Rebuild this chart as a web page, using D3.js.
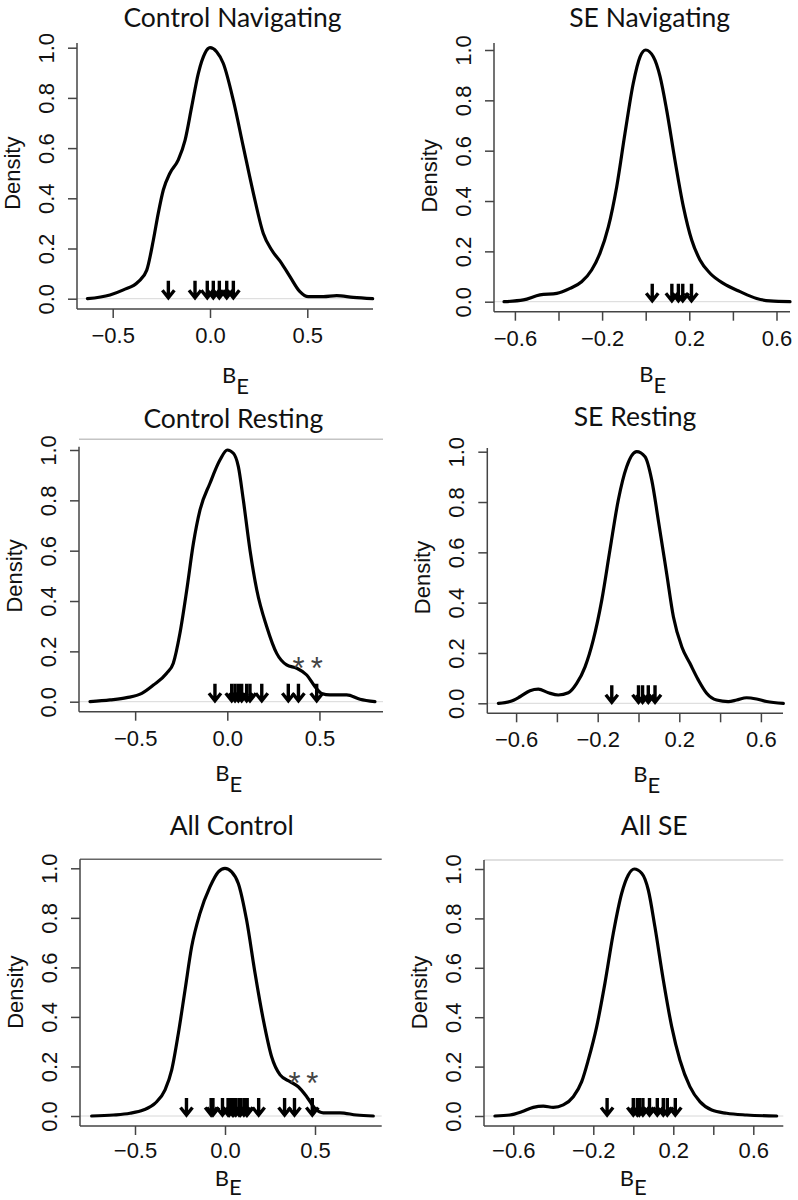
<!DOCTYPE html>
<html><head><meta charset="utf-8">
<script src="https://cdn.jsdelivr.net/npm/d3@7"></script>
<style>body{margin:0;background:#fff}svg{display:block}</style>
</head><body>
<script>
// ---------- data ----------
const titles = ["Control Navigating", "SE Navigating", "Control Resting", "SE Resting", "All Control", "All SE"];

const curveCN = [[-0.63,0],[-0.514,0.015],[-0.445,0.035],[-0.368,0.068],[-0.325,0.114],[-0.291,0.234],[-0.266,0.34],[-0.24,0.433],[-0.206,0.50],[-0.163,0.553],[-0.128,0.632],[-0.094,0.765],[-0.06,0.898],[-0.026,0.978],[0,1.0],[0.034,0.984],[0.068,0.938],[0.12,0.79],[0.171,0.606],[0.223,0.42],[0.274,0.26],[0.317,0.194],[0.368,0.141],[0.411,0.088],[0.462,0.028],[0.505,0.008],[0.583,0.008],[0.651,0.012],[0.736,0.005],[0.836,0]];
const curveSN = [[-0.65,0],[-0.561,0.007],[-0.485,0.027],[-0.408,0.033],[-0.347,0.053],[-0.294,0.079],[-0.248,0.126],[-0.21,0.192],[-0.171,0.298],[-0.133,0.457],[-0.095,0.669],[-0.057,0.868],[-0.026,0.973],[0,1.0],[0.035,0.973],[0.066,0.894],[0.096,0.762],[0.134,0.563],[0.173,0.377],[0.211,0.245],[0.249,0.166],[0.295,0.113],[0.356,0.073],[0.433,0.04],[0.509,0.013],[0.57,0.003],[0.662,0]];
const curveCR = [[-0.745,0],[-0.636,0.007],[-0.546,0.016],[-0.464,0.033],[-0.401,0.066],[-0.329,0.113],[-0.293,0.153],[-0.257,0.272],[-0.22,0.444],[-0.184,0.629],[-0.148,0.762],[-0.094,0.868],[-0.04,0.96],[0,1.0],[0.033,0.987],[0.06,0.934],[0.087,0.801],[0.123,0.603],[0.16,0.444],[0.214,0.298],[0.268,0.192],[0.322,0.146],[0.377,0.133],[0.431,0.106],[0.476,0.06],[0.512,0.033],[0.557,0.027],[0.648,0.027],[0.72,0.01],[0.801,0]];
const curveSR = [[-0.687,0],[-0.63,0.007],[-0.581,0.026],[-0.532,0.05],[-0.491,0.056],[-0.442,0.042],[-0.393,0.033],[-0.344,0.042],[-0.303,0.079],[-0.262,0.145],[-0.222,0.251],[-0.18,0.41],[-0.14,0.609],[-0.099,0.808],[-0.058,0.94],[-0.009,1.0],[0.032,0.98],[0.065,0.887],[0.097,0.728],[0.138,0.516],[0.171,0.344],[0.212,0.225],[0.252,0.159],[0.293,0.093],[0.334,0.04],[0.383,0.013],[0.44,0.007],[0.481,0.013],[0.53,0.022],[0.579,0.017],[0.628,0.007],[0.71,0]];
const curveAC = [[-0.741,0],[-0.62,0.004],[-0.528,0.011],[-0.454,0.024],[-0.389,0.051],[-0.333,0.105],[-0.296,0.186],[-0.259,0.334],[-0.222,0.509],[-0.185,0.684],[-0.139,0.818],[-0.083,0.926],[-0.037,0.986],[0,1.0],[0.037,0.986],[0.074,0.939],[0.12,0.791],[0.167,0.576],[0.213,0.388],[0.259,0.239],[0.306,0.166],[0.361,0.139],[0.407,0.118],[0.454,0.078],[0.5,0.031],[0.546,0.013],[0.639,0.013],[0.731,0.004],[0.824,0]];
const curveAS = [[-0.692,0],[-0.617,0.004],[-0.558,0.017],[-0.5,0.035],[-0.45,0.04],[-0.4,0.035],[-0.35,0.045],[-0.3,0.078],[-0.258,0.139],[-0.225,0.227],[-0.183,0.362],[-0.142,0.537],[-0.1,0.74],[-0.058,0.902],[-0.025,0.976],[0.005,1.0],[0.042,0.983],[0.075,0.915],[0.108,0.766],[0.15,0.551],[0.192,0.362],[0.233,0.227],[0.283,0.119],[0.333,0.058],[0.392,0.024],[0.467,0.011],[0.567,0.004],[0.717,0]];

const arrowsCN = [-0.214, -0.077, -0.014, 0.017, 0.048, 0.086, 0.12];
const arrowsSN = [0.03, 0.12, 0.15, 0.17, 0.21];
const arrowsCR = [-0.067, 0.024, 0.042, 0.06, 0.078, 0.105, 0.123, 0.187, 0.331, 0.386, 0.485];
const arrowsSR = [-0.131, 0, 0.02, 0.048, 0.081];
const arrowsAC = arrowsCN.concat(arrowsCR);
const arrowsAS = arrowsSN.concat(arrowsSR);

const starsCR = [0.386, 0.485];
const starsAC = [0.386, 0.485];

const ticksXControl = [-0.5, 0, 0.5];
const ticksXSE = [-0.6, -0.4, -0.2, 0, 0.2, 0.4, 0.6];
const labelsXSE = [-0.6, -0.2, 0.2, 0.6];
const ticksY = [0, 0.2, 0.4, 0.6, 0.8, 1.0];
const yLabel = "Density";

const curves = [curveCN, curveSN, curveCR, curveSR, curveAC, curveAS];
const arrowSets = [arrowsCN, arrowsSN, arrowsCR, arrowsSR, arrowsAC, arrowsAS];
const starSets = [[], [], starsCR, [], starsAC, []];
const xTickSets = [ticksXControl, ticksXSE, ticksXControl, ticksXSE, ticksXControl, ticksXSE];
const xLabelSets = [ticksXControl, labelsXSE, ticksXControl, labelsXSE, ticksXControl, labelsXSE];

// ---------- layout ----------
const layout = [
 {x0:210, xu:194.6, y0:298.7, y1:47.7, left:77, right:373, top:43, axisY:309, tl:34, tx:232.5, ty:26.5, bx:235.5, by:383, edy:11},
 {x0:645.7, xu:218, y0:301.7, y1:50, left:494, right:790, top:43, axisY:311.7, tl:34, tx:649.7, ty:26.5, bx:652.8, by:382, edy:11},
 {x0:227.3, xu:184.3, y0:701.7, y1:450, left:79, right:383, top:446.7, axisY:711.7, tl:34, tx:233.3, ty:428.3, bx:228.8, by:781, edy:11, topLine:{y:439.3, color:"#c4c4c4"}},
 {x0:638.5, xu:204, y0:703.3, y1:451.7, left:487.3, right:783, top:448, axisY:713.3, tl:34, tx:635, ty:426, bx:646.7, by:782, edy:11},
 {x0:225, xu:180, y0:1116, y1:868.3, left:80, right:381.7, top:859.3, axisY:1126, tl:32, tx:231.7, ty:835, bx:228.3, by:1186, edy:9, topLine:{y:859.3, color:"#666"}},
 {x0:633.3, xu:200, y0:1116, y1:869, left:484, right:783.3, top:860, axisY:1126, tl:32, tx:654.2, ty:835, bx:633.3, by:1186, edy:9, topLine:{y:860, color:"#d6d6d6"}}
];

const W = 798, H = 1200;
const svg = d3.select("body").append("svg").attr("width", W).attr("height", H);
svg.append("rect").attr("width", W).attr("height", H).attr("fill", "#fff");

const titleFont = "Lato, 'Open Sans', sans-serif";
const axisFont = "'Liberation Sans', Arial, sans-serif";
const fmt = d3.format(".1f");
const axisColor = "#444";

layout.forEach((L, i) => {
  const g = svg.append("g");
  const x = d3.scaleLinear().domain([0, 1]).range([L.x0, L.x0 + L.xu]);
  const y = d3.scaleLinear().domain([0, 1]).range([L.y0, L.y1]);

  if (L.topLine) {
    g.append("line").attr("x1", L.left).attr("x2", L.right).attr("y1", L.topLine.y).attr("y2", L.topLine.y)
      .attr("stroke", L.topLine.color).attr("stroke-width", 1.5);
  }

  // baseline at 0
  g.append("line").attr("x1", L.left).attr("x2", L.right).attr("y1", y(0)).attr("y2", y(0))
    .attr("stroke", "#d8d8d8").attr("stroke-width", 1);

  // x axis
  const xAxis = d3.axisBottom(x).tickValues(xTickSets[i]).tickSize(9).tickPadding(4)
    .tickFormat(d => xLabelSets[i].includes(d) ? fmt(d) : "");
  const gx = g.append("g").attr("transform", `translate(0,${L.axisY})`).call(xAxis);
  gx.select(".domain").remove();
  gx.selectAll(".tick line").attr("stroke", axisColor).attr("stroke-width", 1.5);
  gx.selectAll(".tick text").attr("font-family", axisFont).attr("font-size", 22).attr("fill", "#111")
    .attr("dy", null).attr("y", L.tl).style("dominant-baseline", "auto");
  g.append("line").attr("x1", L.left).attr("x2", L.right).attr("y1", L.axisY).attr("y2", L.axisY)
    .attr("stroke", axisColor).attr("stroke-width", 1.5);

  // y axis
  const yAxis = d3.axisLeft(y).tickValues(ticksY).tickSize(9).tickFormat(fmt);
  const gy = g.append("g").attr("transform", `translate(${L.left},0)`).call(yAxis);
  gy.select(".domain").remove();
  gy.selectAll(".tick line").attr("stroke", axisColor).attr("stroke-width", 1.5);
  gy.selectAll(".tick text").attr("font-family", axisFont).attr("font-size", 22).attr("fill", "#111")
    .attr("x", null).attr("dy", null).attr("text-anchor", "middle")
    .attr("transform", "translate(-23,0) rotate(-90)");
  g.append("line").attr("x1", L.left).attr("x2", L.left).attr("y1", L.top).attr("y2", L.axisY)
    .attr("stroke", axisColor).attr("stroke-width", 1.5);

  // y label
  g.append("text").attr("transform", `translate(${L.left - 57},${(L.y0 + L.y1) / 2}) rotate(-90)`)
    .attr("text-anchor", "middle").attr("font-family", axisFont).attr("font-size", 22).attr("fill", "#111")
    .text(yLabel);

  // x label B_E
  const xl = g.append("text").attr("x", L.bx).attr("y", L.by).attr("text-anchor", "middle")
    .attr("font-family", titleFont).attr("font-size", 22).attr("fill", "#111");
  xl.append("tspan").text("B");
  xl.append("tspan").attr("dy", L.edy).text("E");

  // title
  g.append("text").attr("x", L.tx).attr("y", L.ty).attr("text-anchor", "middle")
    .attr("font-family", titleFont).attr("font-size", 26.5).attr("fill", "#111").text(titles[i]);

  // density curve
  const line = d3.line().x(d => x(d[0])).y(d => y(d[1])).curve(d3.curveMonotoneX);
  g.append("path").datum(curves[i]).attr("d", line).attr("fill", "none")
    .attr("stroke", "#000").attr("stroke-width", 3.2).attr("stroke-linejoin", "round").attr("stroke-linecap", "round");

  // arrows
  const ag = g.append("g").attr("stroke", "#000").attr("stroke-width", 3.4).attr("fill", "none")
    .attr("stroke-linecap", "butt").attr("stroke-linejoin", "miter");
  arrowSets[i].forEach(v => {
    const ax = x(v), top = y(0) - 18, tip = y(0) - 1;
    ag.append("path").attr("d", `M${ax},${top}L${ax},${tip}M${ax - 6},${tip - 7.5}L${ax},${tip}L${ax + 6},${tip - 7.5}`);
  });

  // asterisks
  starSets[i].forEach(v => {
    g.append("text").attr("x", x(v)).attr("y", y(0.16) + 18).attr("text-anchor", "middle")
      .attr("font-family", axisFont).attr("font-size", 31).attr("fill", "#444").text("*");
  });
});
</script>
</body></html>
